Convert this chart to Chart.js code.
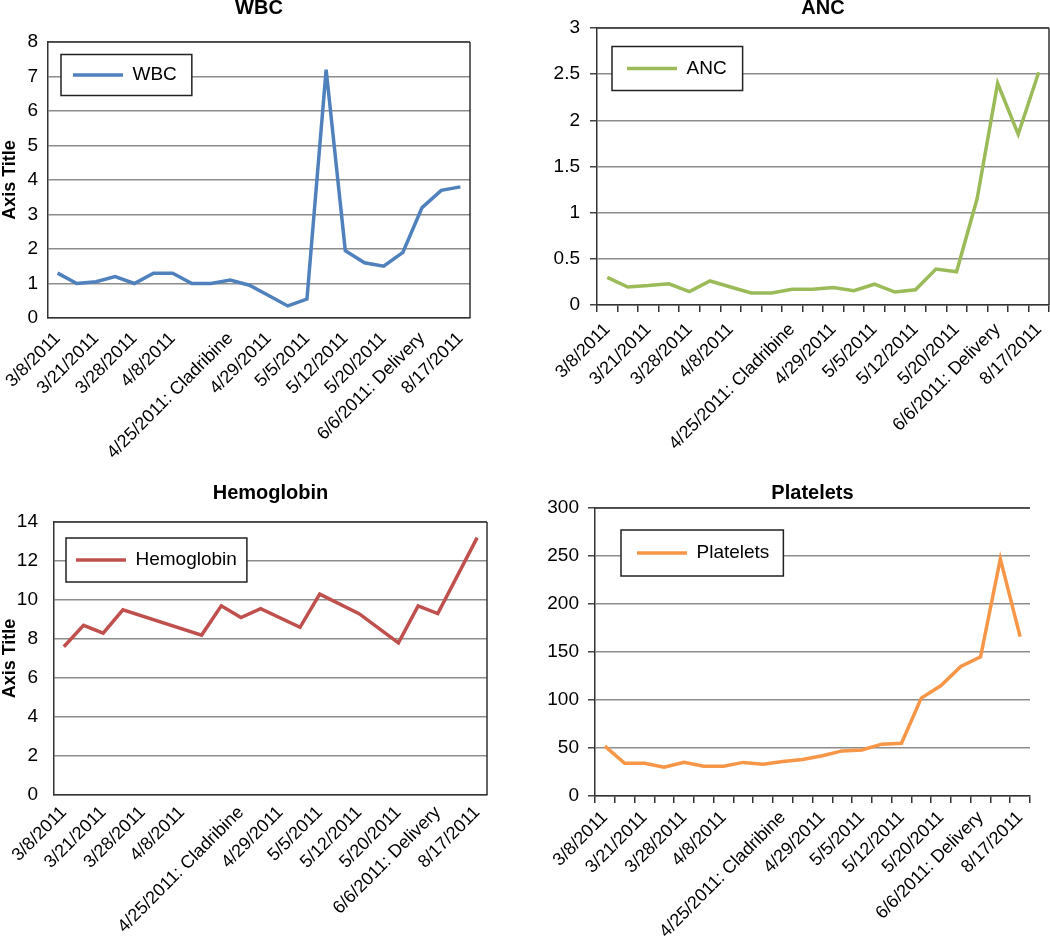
<!DOCTYPE html>
<html>
<head>
<meta charset="utf-8">
<title>Blood counts 2011</title>
<script src="https://cdn.jsdelivr.net/npm/chart.js@4.4.0/dist/chart.umd.min.js"></script>
<style>
  body { margin: 0; background: #fff; }
  #wrap { position: relative; width: 1050px; height: 944px; overflow: hidden; }
  canvas { position: absolute; }
</style>
</head>
<body>
<div id="wrap">
  <canvas id="wbc-chart" width="520" height="470" style="left:0;top:0"></canvas>
  <canvas id="anc-chart" width="530" height="470" style="left:520px;top:0"></canvas>
  <canvas id="hgb-chart" width="520" height="474" style="left:0;top:470px"></canvas>
  <canvas id="plt-chart" width="530" height="474" style="left:520px;top:470px"></canvas>
</div>
<script>
// dates printed under each chart and the draw they sit under (22 draws in all)
const tickLabels = ['3/8/2011', '3/21/2011', '3/28/2011', '4/8/2011', '4/25/2011: Cladribine',
    '4/29/2011', '5/5/2011', '5/12/2011', '5/20/2011', '6/6/2011: Delivery', '8/17/2011'];
const tickSlots = [0, 2, 4, 6, 9, 11, 13, 15, 17, 19, 21];
const categories = new Array(22).fill('');
tickSlots.forEach((slot, i) => { categories[slot] = tickLabels[i]; });

const wbc = [1.3, 1.0, 1.05, 1.2, 1.0, 1.3, 1.3, 1.0, 1.0, 1.1, 0.95, 0.65, 0.35, 0.55, 7.2, 1.95, 1.6, 1.5, 1.9, 3.2, 3.7, 3.8];
const anc = [0.30, 0.195, 0.21, 0.23, 0.145, 0.26, 0.195, 0.13, 0.13, 0.17, 0.17, 0.19, 0.155, 0.225, 0.14, 0.165, 0.39, 0.36, 1.15, 2.4, 1.85, 2.52];
const hemoglobin = [7.6, 8.7, 8.3, 9.5, null, null, null, 8.2, 9.7, 9.1, 9.55, null, 8.6, 10.3, null, 9.3, null, 7.8, 9.7, 9.3, null, 13.2];
const platelets = [52, 34, 34, 30, 35, 31, 31, 35, 33, 36, 38, 42, 47, 48, 54, 55, 102, 115, 135, 145, 247, 166];

const SANS = '"Liberation Sans", Arial, sans-serif';

// dark frame lines on the sides of the plot area that have no axis
const plotFrame = {
    id: 'plotFrame',
    beforeDatasetsDraw(chart, args, opts) {
        const { ctx, chartArea: a } = chart;
        ctx.save();
        ctx.strokeStyle = '#333';
        ctx.lineWidth = 1.5;
        ctx.beginPath();
        if (opts.top) { ctx.moveTo(a.left, a.top); ctx.lineTo(a.right, a.top); }
        if (opts.right) { ctx.moveTo(a.right, a.top); ctx.lineTo(a.right, a.bottom); }
        ctx.stroke();
        ctx.restore();
    }
};

// boxed legend floating inside the plot area
const legendFrame = {
    id: 'legendFrame',
    beforeDraw(chart, args, opts) {
        const lg = chart.legend;
        if (!lg || lg._framed) return;
        lg._framed = true;
        const draw = lg.draw;
        lg.draw = function () {
            const ctx = this.ctx;
            const hb = this.legendHitBoxes[0];
            const a = chart.chartArea;
            const dx = a.left + opts.dx - hb.left;
            const dy = a.top + opts.cy - (hb.top + hb.height / 2);
            ctx.save();
            ctx.translate(dx, dy);
            const x = hb.left - opts.padL;
            const y = hb.top + hb.height / 2 - opts.halfH;
            const w = hb.width + opts.padL + opts.padR;
            const h = opts.halfH * 2;
            ctx.fillStyle = '#fff';
            ctx.fillRect(x, y, w, h);
            ctx.strokeStyle = '#222';
            ctx.lineWidth = 1.5;
            ctx.strokeRect(x, y, w, h);
            draw.call(this);
            ctx.restore();
        };
    }
};

function buildChart(id, c) {
    return new Chart(document.getElementById(id), {
        type: 'line',
        data: {
            labels: categories,
            datasets: [{
                label: c.title,
                data: c.data,
                borderColor: c.color,
                backgroundColor: c.color,
                borderWidth: 3.5,
                pointRadius: 0,
                tension: 0,
                spanGaps: true,
                fill: false
            }]
        },
        plugins: [plotFrame, legendFrame],
        options: {
            responsive: false,
            animation: false,
            devicePixelRatio: 1,
            events: [],
            layout: { padding: { left: 0, top: 0, right: c.padRight, bottom: 0 } },
            plugins: {
                title: {
                    display: true,
                    text: c.title,
                    fullSize: false,
                    color: '#000',
                    font: { family: SANS, size: 20, weight: 'bold', lineHeight: 0.8 },
                    padding: { top: c.titleY - 8, bottom: c.areaTop - c.titleY - 8 }
                },
                legend: {
                    position: 'chartArea',
                    align: 'start',
                    labels: {
                        usePointStyle: true,
                        pointStyle: 'line',
                        pointStyleWidth: 50,
                        padding: 0,
                        color: '#000',
                        font: { family: SANS, size: 19 }
                    }
                },
                tooltip: { enabled: false },
                plotFrame: c.frame,
                legendFrame: c.legend
            },
            scales: {
                x: {
                    offset: true,
                    afterFit(s) { s.height = c.xHeight; s.paddingLeft = 0; s.paddingRight = 0; },
                    grid: {
                        display: c.xTicks,
                        drawOnChartArea: false,
                        drawTicks: c.xTicks,
                        offset: true,
                        tickLength: 7,
                        color: '#333',
                        lineWidth: 1.5
                    },
                    border: { display: true, color: '#333', width: 1.5 },
                    ticks: {
                        autoSkip: false,
                        minRotation: 45,
                        maxRotation: 45,
                        padding: c.xPad,
                        color: '#000',
                        font: { family: SANS, size: 18 }
                    }
                },
                y: {
                    min: c.min,
                    max: c.max,
                    afterFit(s) { s.width = c.yWidth; s.paddingTop = 0; s.paddingBottom = 0; },
                    title: {
                        display: c.axisTitle,
                        text: 'Axis Title',
                        color: '#000',
                        padding: 0,
                        font: { family: SANS, size: 18, weight: 'bold', lineHeight: 1.1 }
                    },
                    grid: {
                        color: '#8c8c8c',
                        lineWidth: 1.5,
                        drawTicks: c.yTicks,
                        tickLength: 7,
                        tickColor: '#444'
                    },
                    border: { display: true, color: '#333', width: 1.5 },
                    ticks: {
                        stepSize: c.step,
                        padding: c.yPad,
                        color: '#000',
                        font: { family: SANS, size: 19 },
                        callback: v => String(v)
                    }
                }
            }
        }
    });
}

buildChart('wbc-chart', {
    title: 'WBC', data: wbc, color: '#4f81bd',
    min: 0, max: 8, step: 1,
    titleY: 8, areaTop: 42, padRight: 50, yWidth: 48, xHeight: 152,
    axisTitle: true, xTicks: false, yTicks: false, xPad: 10, yPad: 10,
    frame: { top: true, right: true },
    legend: { dx: 25, cy: 33, padL: 12, padR: 15, halfH: 20.5 }
});

buildChart('anc-chart', {
    title: 'ANC', data: anc, color: '#9bbb59',
    min: 0, max: 3, step: 0.5,
    titleY: 8, areaTop: 28, padRight: 1, yWidth: 77, xHeight: 165,
    axisTitle: false, xTicks: true, yTicks: true, xPad: 7, yPad: 10,
    frame: { top: true, right: true },
    legend: { dx: 30, cy: 40.5, padL: 15, padR: 16, halfH: 22 }
});

buildChart('hgb-chart', {
    title: 'Hemoglobin', data: hemoglobin, color: '#c0504d',
    min: 0, max: 14, step: 2,
    titleY: 23, areaTop: 52, padRight: 33, yWidth: 54, xHeight: 149,
    axisTitle: true, xTicks: false, yTicks: false, xPad: 7, yPad: 16,
    frame: { top: true, right: true },
    legend: { dx: 22, cy: 38, padL: 10, padR: 10, halfH: 22 }
});

buildChart('plt-chart', {
    title: 'Platelets', data: platelets, color: '#f79646',
    min: 0, max: 300, step: 50,
    titleY: 23, areaTop: 38, padRight: 20, yWidth: 75, xHeight: 148,
    axisTitle: false, xTicks: true, yTicks: true, xPad: 4, yPad: 9,
    frame: { top: true, right: false },
    legend: { dx: 42, cy: 45, padL: 16, padR: 14, halfH: 23 }
});
</script>
</body>
</html>
